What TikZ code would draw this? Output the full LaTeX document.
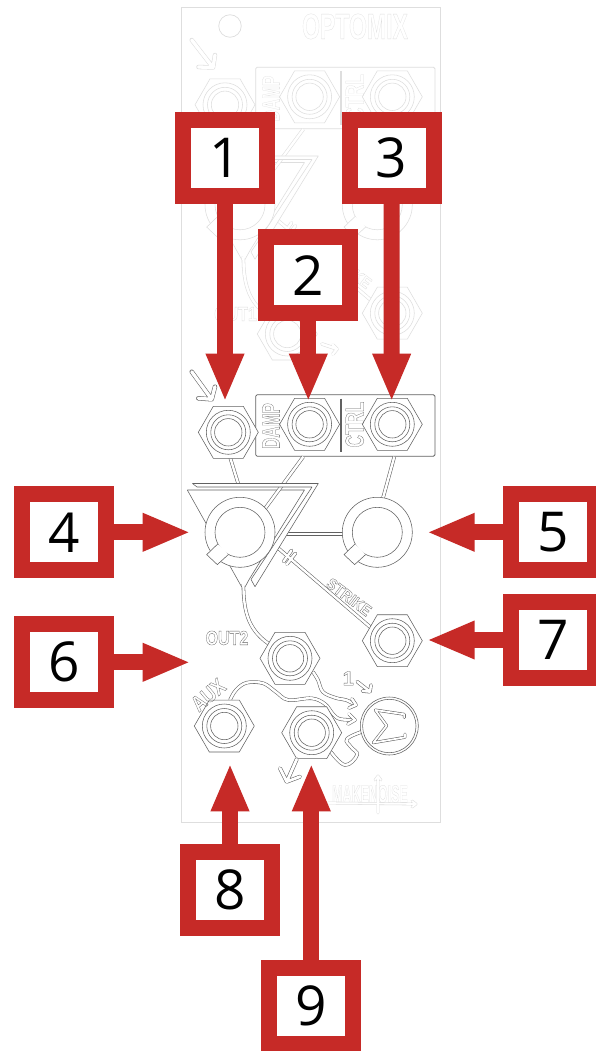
\documentclass[tikz,border=0pt]{standalone}
\usepackage{fontspec}
\usetikzlibrary{arrows.meta,shapes.geometric,calc}
\pgfdeclarelayer{panelbg}
\pgfdeclarelayer{arrowlayer}
\pgfsetlayers{panelbg,arrowlayer,main}
\newfontfamily\numfont{Open Sans}
\newfontfamily\lblfont[BoldFont={Liberation Sans Bold}]{Liberation Sans}
\definecolor{callred}{HTML}{C62A27}
\definecolor{ghostink}{gray}{0.87}
\definecolor{mainink}{gray}{0.38}
\colorlet{chcolor}{mainink}
\def\chgray{0.38}
\newcommand\OT[1]{{\lblfont\bfseries\special{pdf:code 1 Tr 0.3 w \chgray\space G}#1\special{pdf:code 0 Tr}}}
\tikzset{
  numbox/.style={draw=callred,fill=white,line width=16pt,minimum width=84pt,minimum height=76pt,inner sep=0pt,font=\numfont\fontsize{55}{55}\selectfont,text=black},
  callout/.style={draw=callred,line width=16pt,-{Triangle[length=48pt,width=35pt]}},
  ink/.style={draw=chcolor,line width=0.55pt,line join=round},
  trace/.style={draw=chcolor,line width=0.55pt,double=white,double distance=2.4pt},
  hexnode/.style={regular polygon,regular polygon sides=6,minimum size=60pt,inner sep=0pt,outer sep=0pt,draw=chcolor,fill=white,line width=0.55pt},
  knobnode/.style={circle,minimum size=70pt,inner sep=0pt,outer sep=0pt,draw=chcolor,fill=white,line width=0.55pt},
  lbl/.style={inner sep=0pt,transform shape},
}
\newcommand\glyphpath[3][1]{%
  \draw[chcolor,line width=#2pt,line cap=round,line join=round] #3;
  \draw[white,line width=\dimexpr #2pt-1.1pt\relax,line cap=round,line join=round] #3;}
\newcommand\hexrings[1]{%
  \draw[ink] (#1) circle[radius=22pt] (#1) circle[radius=17.5pt] (#1) circle[radius=13.7pt];}
\newcommand\knobdetail[1]{%
  \draw[ink,fill=white] (#1) circle[radius=25pt];
  \begin{scope}[shift={(#1)}]
    \fill[white] (-22.3,11.7) -- (-33.3,22.3) -- (-22.7,32.3) -- (-11.7,22.3) -- cycle;
    \draw[ink] (-22.3,11.7) -- (-33.3,22.3) -- (-22.7,32.3) -- (-11.7,22.3);
  \end{scope}}
% #1 prefix, #2 first hex x, #3 first hex y, #4 out hex x, #5 out hex y
\newcommand\channel[5]{%
  \node[draw=chcolor,line width=0.8pt,rounded corners=1.5pt,minimum width=179.3pt,minimum height=61.6pt,inner sep=0pt] (#1panel) at (345.35,425.5) {};
  \draw[chcolor,line width=1.5pt] (341,398.7) -- (341,452.3);
  \coordinate (#1stem) at (243.4,584);
  \coordinate (#1outj) at (272,646);
  \draw[trace] (#1stem) .. controls (243.4,615) and (250,632) .. (#1outj);
  \filldraw[ink,fill=white] (187.3,490) -- (304.5,490) -- (250,578) -- (245,587);
  \draw[ink] (187.3,490) -- (241.7,587);
  \coordinate (#1ta) at (238.3,484);
  \coordinate (#1ha) at (230.3,458);
  \coordinate (#1tb) at (264,510);
  \coordinate (#1hb) at (303.3,456.7);
  \coordinate (#1tc) at (383,498);
  \coordinate (#1hc) at (394.3,456.7);
  \coordinate (#1td) at (286,533.8);
  \coordinate (#1kd) at (345,533.8);
  \coordinate (#1te) at (276,546.3);
  \coordinate (#1he) at (372,628.6);
  \draw[trace] (#1ha) -- (#1ta);
  \draw[trace] (#1hb) -- (#1tb);
  \draw[trace] (#1hc) -- (#1tc);
  \draw[trace] (#1td) -- (#1kd);
  \draw[chcolor,line width=3.5pt,line cap=round] (283.7,561.4) -- (291.5,550.4) (287,564) -- (295.4,553.4);
  \draw[chcolor,line width=3.5pt] (#1te) -- (#1he);
  \draw[white,line width=2.4pt,line cap=round] (283.7,561.4) -- (291.5,550.4) (287,564) -- (295.4,553.4);
  \draw[white,line width=2.4pt] (#1te) -- (#1he);
  \filldraw[ink,fill=white] (192.5,483.5) -- (318.3,483.5) -- (255,586.7) -- (251,579.5) -- (312,487) -- (197,487) -- cycle;
  \node[knobnode] (#1k1) at (240,532.3) {};
  \knobdetail{#1k1}
  \node[knobnode] (#1k2) at (377.3,532.3) {};
  \knobdetail{#1k2}
  \node[hexnode] (#1h1) at (#2,#3) {}; \hexrings{#1h1}
  \node[hexnode] (#1h2) at (309.6,424.3) {}; \hexrings{#1h2}
  \node[hexnode] (#1h3) at (392.3,424.3) {}; \hexrings{#1h3}
  \node[hexnode] (#1h7) at (392.3,640.7) {}; \hexrings{#1h7}
  \node[hexnode] (#1h6) at (#4,#5) {}; \hexrings{#1h6}
  \node[lbl,rotate=90,xscale=0.62,font=\fontsize{25}{25}\selectfont] (#1damp) at (271,426) {\OT{DAMP}};
  \node[lbl,rotate=90,xscale=0.66,font=\fontsize{26}{26}\selectfont] (#1ctrl) at (354.7,424.5) {\OT{CTRL}};
  \node[lbl,rotate=-37,xscale=0.88,font=\fontsize{16}{16}\selectfont] (#1strike) at (349,597) {\OT{STRIKE}};
}
\begin{document}
\begin{tikzpicture}[x=1pt,y=-1pt]
\useasboundingbox (0,0) rectangle (595,1051);
\begin{pgfonlayer}{panelbg}
\fill[white] (0,0) rectangle (595,1051);
% panel
\node[draw=ghostink,line width=0.9pt,minimum width=258.5pt,minimum height=815pt,inner sep=0pt] (panel) at (310.75,414.5) {};
\colorlet{chcolor}{ghostink}\def\chgray{0.87}
\node[draw=ghostink,circle,minimum size=22.5pt,inner sep=0pt,line width=0.7pt] (hole) at (230,26) {};
\node[lbl,xscale=0.64,font=\fontsize{36}{36}\selectfont] (title) at (355,26.5) {\OT{OPTOMIX}};
\glyphpath{4.4}{(191.7,40) -- (213,67.5) (215,55) -- (213,67.5) -- (198.5,67)}
\begin{scope}[yshift=327.5pt]
  \channel{g}{225}{432.3}{287.3}{661.5}
  \node[lbl,xscale=0.8,font=\fontsize{20}{20}\selectfont] (out1) at (235.5,641.5) {\OT{OUT1}};
\end{scope}
\glyphpath{3.5}{(322,344) -- (337,349) (333,345) -- (337,349) -- (333,354)}
% make noise
\node[lbl,xscale=0.5,font=\fontsize{25}{25}\selectfont] (maker) at (370,794) {\OT{MAKENOISE}};
\glyphpath{2.8}{(328,803) -- (416,804) (412,801) -- (416,804) -- (412,807) (378,776) -- (378,813) (375,780) -- (378,776) -- (381,780)}
% second channel
\colorlet{chcolor}{mainink}\def\chgray{0.38}
\coordinate (sa0) at (313,672);
\coordinate (sa1) at (356,705);
\coordinate (sb0) at (230,700);
\coordinate (sb1) at (355,720);
\coordinate (sc0) at (331,752);
\coordinate (sc1) at (362,731.7);
\draw[trace] plot[smooth,tension=0.6] coordinates {(sb0) (236,690) (246.7,682.7) (263.3,683.3) (276,692) (288.3,700) (311.7,698.3) (325,704) (333,714) (340,719) (sb1)};
\channel{m}{228.3}{432.3}{290}{658.3}
\draw[trace] plot[smooth,tension=0.6] coordinates {(sa0) (318,680) (323,692) (336,698) (346,700) (sa1)};
\node[hexnode] (m8) at (224.3,726) {}; \hexrings{m8}
\draw[trace] plot[smooth,tension=0.7] coordinates {(sc0) (345,765) (357,755) (351,747) (347,739) (sc1)};
\node[hexnode] (m9) at (311.7,732.7) {}; \hexrings{m9}
\draw[ink,fill=white] (389.3,726) circle[radius=29pt];
\node[draw=chcolor,circle,minimum size=53.4pt,inner sep=0pt,line width=0.55pt] (sum) at (389.3,726) {};
\glyphpath{2.9}{(404.3,717.5) -- (404.3,714.3) -- (375.3,710) -- (386.7,725.7) -- (373.3,742.7) -- (405,737.3) -- (405,734)}
% arrow heads on the sum traces
\glyphpath{3.5}{(352,699) -- (356,705) -- (349,708)}
\glyphpath{3.5}{(349,714) -- (355,720) -- (348,724)}
\glyphpath{3.5}{(357.3,681.7) -- (370,691.7) (371,685) -- (370,691.7) -- (362.5,691)}
\glyphpath{3.9}{(296.7,759.3) -- (286.7,781.7) (280,768.3) -- (286.7,781.7) -- (300,776.7)}
\glyphpath{4.4}{(191.7,371.7) -- (211.7,399.3) (215,386.7) -- (211.7,399.3) -- (198.3,398.3)}
\node[lbl,xscale=0.8,font=\fontsize{20}{20}\selectfont] (out2) at (227,638) {\OT{OUT2}};
\node[lbl,rotate=40,xscale=0.8,font=\fontsize{22}{22}\selectfont] (aux) at (208.3,695) {\OT{AUX}};
\node[lbl,font=\fontsize{20}{20}\selectfont] (one) at (348.3,678.3) {\OT{1}};
\end{pgfonlayer}
% callouts
\coordinate (t1) at (225,401.7);
\coordinate (t2) at (308.3,401.7);
\coordinate (t3) at (391.7,401.7);
\coordinate (t4) at (190.7,532.3);
\coordinate (t5) at (426.7,532.3);
\coordinate (t6) at (190.7,662.3);
\coordinate (t7) at (426.7,640);
\coordinate (t8) at (230,763.3);
\coordinate (t9) at (311.3,763.3);
\node[numbox] (b1) at (225,158) {1};
\node[numbox] (b2) at (308.3,275.2) {2};
\node[numbox] (b3) at (391.5,158) {3};
\node[numbox] (b4) at (64,532.3) {4};
\node[numbox] (b5) at (553.3,532.3) {5};
\node[numbox] (b6) at (64,662.3) {6};
\node[numbox] (b7) at (553.3,640) {7};
\node[numbox] (b8) at (230,890) {8};
\node[numbox] (b9) at (311.3,1006.3) {9};
\begin{pgfonlayer}{arrowlayer}
\foreach \i in {1,...,9} {\draw[callout] (b\i) -- (t\i);}
\end{pgfonlayer}
\end{tikzpicture}
\end{document}
